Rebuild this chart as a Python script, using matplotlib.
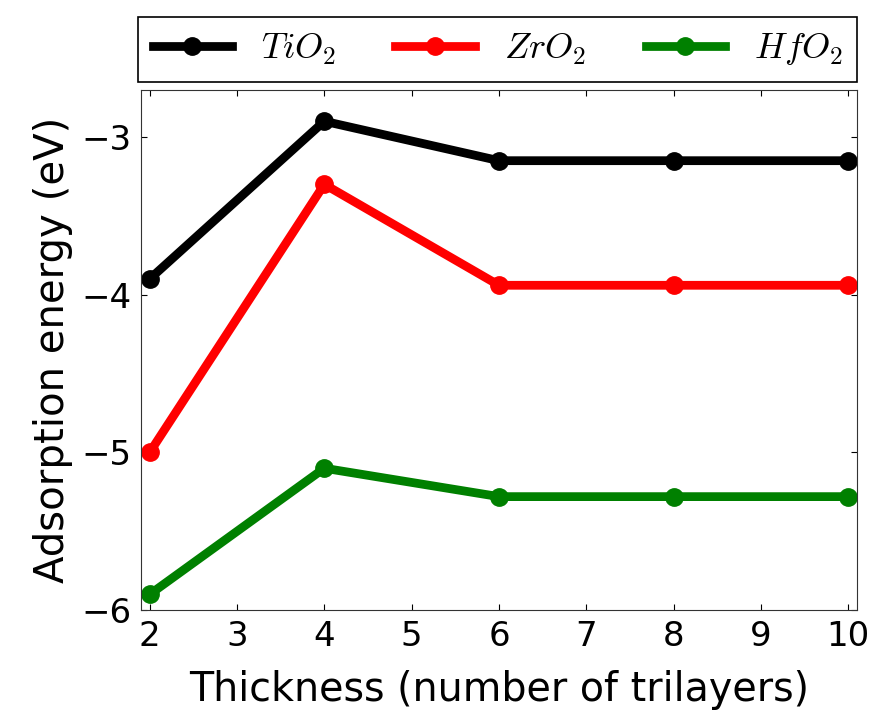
import matplotlib
matplotlib.use('Agg')
import matplotlib.pyplot as plt

plt.rcParams['mathtext.fontset'] = 'cm'

thickness = [2, 4, 6, 8, 10]
tio2 = [-3.90, -2.90, -3.15, -3.15, -3.15]
zro2 = [-5.00, -3.30, -3.94, -3.94, -3.94]
hfo2 = [-5.90, -5.10, -5.28, -5.28, -5.28]

labels = [r'$TiO_2$', r'$ZrO_2$', r'$HfO_2$']
colors = ['black', 'red', 'green']

fig = plt.figure(figsize=(8.7, 7.12), dpi=100)
ax = fig.add_axes([0.162, 0.143, 0.823, 0.731])

for ys, lab, c in zip([tio2, zro2, hfo2], labels, colors):
    ax.plot(thickness, ys, color=c, lw=6.3, marker='o', ms=12.5, label=lab)

ax.set_xlim(1.9, 10.1)
ax.set_ylim(-6, -2.7)
ax.set_yticks([-6, -5, -4, -3])
ax.set_yticklabels(['\u22126', '\u22125', '\u22124', '\u22123'])
ax.set_xticks(range(2, 11))
ax.tick_params(direction='in', top=True, right=True, labelsize=24.5, length=4.5, pad=7)
for s in ax.spines.values():
    s.set_color('#333333')
ax.set_xlabel('Thickness (number of trilayers)', fontsize=28.5, labelpad=12)
ax.set_ylabel('Adsorption energy (eV)', fontsize=29, labelpad=6)

leg = ax.legend(loc='lower left', bbox_to_anchor=(-0.004, 1.015, 1.004, 0.13),
                mode='expand', ncol=3, fontsize=26, fancybox=False,
                handlelength=2.2, borderaxespad=0, framealpha=1)
leg.get_frame().set_edgecolor('black')
leg.get_frame().set_linewidth(1.2)

plt.savefig('out.png', dpi=100)
